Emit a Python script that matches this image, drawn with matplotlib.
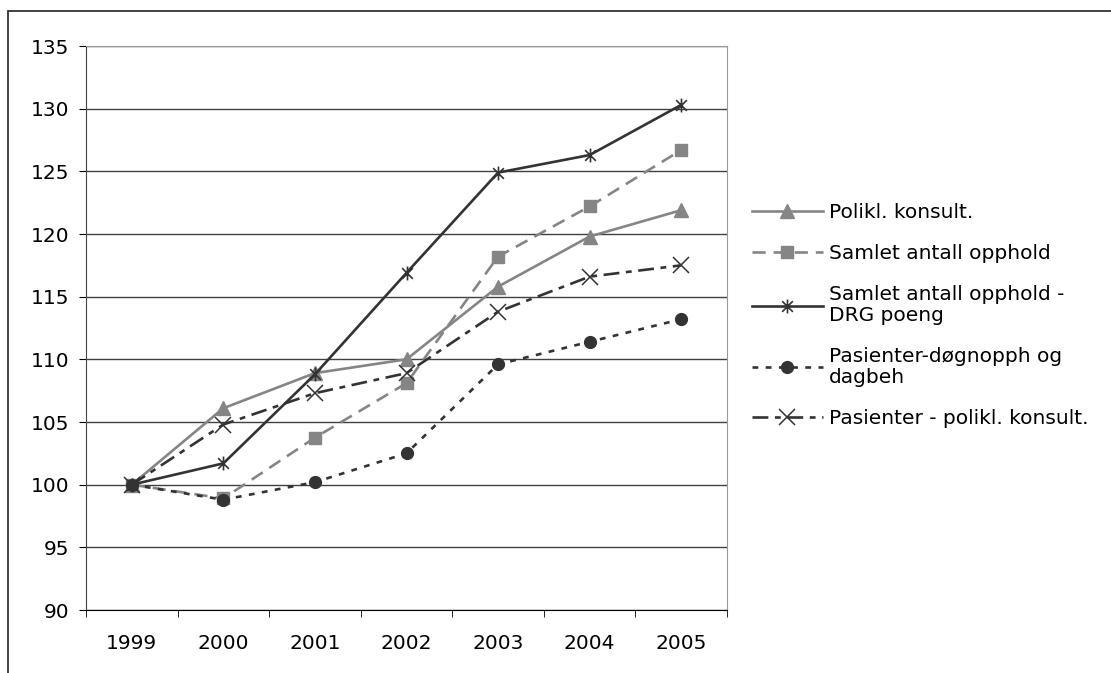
import matplotlib
matplotlib.use('Agg')
import matplotlib.pyplot as plt
from matplotlib.patches import Rectangle
from matplotlib.path import Path
from matplotlib.ticker import FixedLocator

years = ['1999', '2000', '2001', '2002', '2003', '2004', '2005']

polikl = [100, 106.1, 108.9, 110.0, 115.8, 119.8, 121.9]
samlet = [100, 98.9, 103.75, 108.1, 118.2, 122.2, 126.7]
samlet_drg = [100, 101.7, 108.8, 116.9, 124.9, 126.3, 130.3]
pas_dogn = [100, 98.8, 100.2, 102.5, 109.6, 111.4, 113.2]
pas_polikl = [100, 104.8, 107.3, 108.9, 113.8, 116.6, 117.5]

labels = ['Polikl. konsult.',
          'Samlet antall opphold',
          'Samlet antall opphold -\nDRG poeng',
          'Pasienter-døgnopph og\ndagbeh',
          'Pasienter - polikl. konsult.']

GRAY = '#858585'
DARK = '#333333'

plt.rcParams['font.family'] = ['DejaVu Sans']
plt.rcParams['font.size'] = 14.5

# Excel-style star: x plus vertical bar
star = Path([(-1, -1), (1, 1), (-1, 1), (1, -1), (0, -1.3), (0, 1.3)],
            [Path.MOVETO, Path.LINETO, Path.MOVETO, Path.LINETO, Path.MOVETO, Path.LINETO])

fig = plt.figure(figsize=(11.11, 6.73), dpi=100)
ax = fig.add_axes([86 / 1111, 63 / 673, 641 / 1111, 564 / 673])

x = list(range(len(years)))
lw = 1.9
ax.plot(x, polikl, color=GRAY, lw=lw, marker='^', ms=9.5, label=labels[0])
ax.plot(x, samlet, color=GRAY, lw=lw, ls=(0, (5, 3)), marker='s', ms=8, label=labels[1])
ax.plot(x, samlet_drg, color=DARK, lw=lw, marker=star, ms=10, mew=1.2, label=labels[2])
ax.plot(x, pas_dogn, color=DARK, lw=lw, ls=(0, (2.2, 2.8)), marker='o', ms=8.5, label=labels[3])
ax.plot(x, pas_polikl, color=DARK, lw=lw, ls=(0, (6, 2.5, 2.2, 2.5)), marker='x', ms=11,
        mew=1.1, label=labels[4])

ax.set_xlim(-0.5, len(years) - 0.5)
ax.set_ylim(90, 135)
ax.set_yticks(range(90, 136, 5))
ax.set_xticks(x)
ax.set_xticklabels(years)
ax.xaxis.set_minor_locator(FixedLocator([i - 0.5 for i in range(len(years) + 1)]))
ax.tick_params(axis='x', which='major', length=0, pad=17)
ax.tick_params(axis='x', which='minor', length=5, direction='out', color='black')
ax.tick_params(axis='y', length=5, direction='out', pad=7)
ax.yaxis.grid(True, color='#404040', lw=1)
ax.set_axisbelow(True)
for side in ['top', 'right']:
    ax.spines[side].set_color('#999999')
ax.spines['left'].set_color('#444444')
ax.spines['bottom'].set_color('black')

leg = fig.legend(loc='upper left', bbox_to_anchor=(744 / 1111, 1 - 195 / 673), frameon=False,
                 handlelength=3.5, handletextpad=0.3, labelspacing=1.1, fontsize=14.5,
                 borderaxespad=0)
for t in leg.get_texts():
    t.set_linespacing(1.1)

fig.patches.append(Rectangle((8 / 1111, -0.1), 1.2, 1 - 11 / 673 + 0.1,
                             transform=fig.transFigure, fill=False,
                             edgecolor='#333333', lw=1.3))

fig.savefig('out.png', dpi=100)
